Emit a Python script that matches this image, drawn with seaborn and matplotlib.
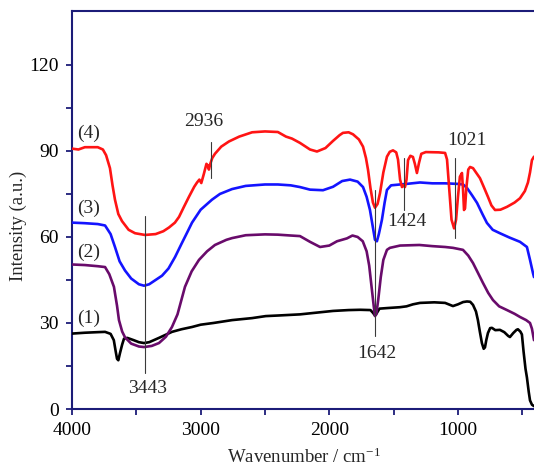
import matplotlib
matplotlib.use("Agg")
import matplotlib.pyplot as plt
import seaborn as sns
import pandas as pd

# ---------------- data ----------------
wn_4 = [4000, 3950, 3900, 3800, 3760, 3735, 3705, 3685, 3666, 3640, 3611, 3560, 3510, 3433,
        3350, 3290, 3246, 3200, 3168, 3130, 3091, 3050, 3028, 3010, 2995, 2975, 2955, 2945,
        2936, 2925, 2910, 2889, 2840, 2780, 2700, 2600, 2500, 2400, 2337, 2290, 2228, 2150,
        2096, 2030, 1971, 1920, 1894, 1850, 1816, 1770, 1738, 1715, 1699, 1680, 1661, 1645,
        1625, 1606, 1580, 1552, 1530, 1505, 1480, 1466, 1450, 1435, 1424, 1412, 1400, 1388,
        1370, 1350, 1335, 1319, 1303, 1285, 1250, 1150, 1100, 1085, 1070, 1050, 1030, 1015,
        1000, 985, 969, 960, 953, 945, 935, 920, 906, 883, 860, 829, 800, 767, 740, 712, 670,
        619, 560, 518, 480, 456, 440, 425, 409]
int_4 = [90.8, 90.5, 91.3, 91.3, 90.5, 88.5, 84.0, 78.0, 73.0, 68.0, 65.5, 62.5, 61.3, 60.7,
         61.0, 62.0, 63.3, 65.0, 67.0, 70.5, 74.0, 77.5, 79.0, 80.0, 78.8, 82.0, 85.5, 85.0,
         83.5, 85.5, 87.5, 89.0, 91.5, 93.3, 95.0, 96.5, 96.8, 96.6, 95.0, 94.3, 92.8, 90.5,
         89.8, 91.0, 93.5, 95.5, 96.3, 96.5, 95.8, 94.0, 91.5, 87.5, 83.4, 77.0, 72.0, 70.2,
         71.5, 75.3, 82.5, 88.0, 89.7, 90.2, 89.5, 87.0, 80.0, 77.4, 78.0, 77.4, 80.0, 86.8,
         88.3, 87.9, 85.5, 82.3, 85.8, 89.0, 89.6, 89.5, 89.3, 87.0, 78.0, 66.0, 63.0, 66.0,
         74.0, 81.0, 82.3, 76.0, 69.4, 70.0, 77.0, 83.5, 84.4, 84.0, 82.5, 80.5, 77.5, 74.0,
         71.0, 69.4, 69.5, 70.5, 72.0, 73.5, 76.0, 79.0, 82.5, 86.8, 88.0]

wn_3 = [4000, 3900, 3800, 3743, 3700, 3666, 3630, 3588, 3540, 3480, 3440, 3400, 3350, 3300,
        3250, 3199, 3150, 3100, 3067, 3000, 2912, 2850, 2756, 2650, 2500, 2400, 2300, 2228,
        2150, 2049, 1971, 1900, 1839, 1780, 1738, 1710, 1684, 1660, 1645, 1630, 1615, 1591,
        1570, 1552, 1520, 1451, 1400, 1295, 1200, 1100, 1000, 960, 930, 890, 852, 810, 775,
        730, 674, 600, 518, 464, 440, 417, 409]
int_3 = [65.0, 64.8, 64.5, 64.0, 61.0, 56.5, 51.5, 48.3, 45.5, 43.5, 43.0, 43.5, 45.0, 46.5,
         49.0, 53.0, 57.5, 62.0, 65.0, 69.5, 73.0, 75.0, 76.7, 77.8, 78.3, 78.3, 78.0, 77.4,
         76.5, 76.3, 77.5, 79.5, 80.0, 79.3, 77.4, 74.0, 69.4, 63.0, 59.0, 58.5, 61.0, 66.0,
         72.0, 76.4, 78.0, 78.3, 78.5, 79.0, 78.7, 78.7, 78.5, 78.3, 77.1, 74.5, 71.9, 68.0,
         64.9, 62.5, 61.3, 59.8, 58.3, 56.5, 52.0, 47.4, 46.0]

wn_2 = [4000, 3900, 3800, 3743, 3710, 3674, 3650, 3635, 3610, 3588, 3540, 3480, 3440, 3380,
        3324, 3270, 3223, 3180, 3122, 3070, 3013, 2950, 2889, 2800, 2756, 2650, 2500, 2400,
        2300, 2228, 2150, 2072, 2000, 1940, 1863, 1820, 1780, 1740, 1710, 1690, 1670, 1655,
        1645, 1635, 1620, 1600, 1580, 1552, 1529, 1450, 1300, 1200, 1100, 1039, 961, 920,
        883, 845, 806, 765, 728, 680, 619, 560, 518, 470, 440, 425, 409]
int_2 = [50.4, 50.2, 49.8, 49.5, 47.0, 42.6, 36.0, 31.0, 27.0, 25.0, 22.8, 21.8, 21.6, 22.0,
         23.0, 25.2, 28.6, 33.0, 42.6, 48.0, 52.0, 55.0, 57.2, 59.0, 59.6, 60.6, 60.9, 60.8,
         60.5, 60.3, 58.3, 56.5, 57.0, 58.5, 59.5, 60.5, 60.0, 58.5, 55.0, 50.0, 42.0, 36.0,
         32.4, 33.0, 38.0, 46.0, 52.0, 55.5, 56.2, 57.0, 57.2, 56.8, 56.5, 56.2, 55.5, 53.5,
         50.9, 47.5, 44.0, 40.5, 38.0, 35.8, 34.5, 33.2, 32.1, 31.0, 30.0, 28.0, 24.0]

wn_1 = [4000, 3900, 3800, 3743, 3700, 3675, 3660, 3650, 3640, 3627, 3610, 3596, 3570, 3520,
        3480, 3440, 3400, 3324, 3223, 3150, 3067, 3000, 2900, 2756, 2600, 2494, 2400, 2228,
        2100, 1971, 1850, 1760, 1680, 1660, 1645, 1630, 1610, 1550, 1451, 1400, 1350, 1295,
        1184, 1100, 1039, 1000, 960, 930, 905, 883, 860, 845, 830, 814, 800, 790, 780, 767,
        750, 736, 710, 674, 640, 610, 596, 570, 545, 534, 515, 503, 490, 475, 464, 450, 440,
        425, 409]
int_1 = [26.3, 26.6, 26.8, 26.9, 26.2, 24.0, 20.0, 17.5, 17.0, 19.5, 22.5, 24.5, 24.8, 24.0,
         23.3, 23.0, 23.3, 24.8, 26.9, 27.8, 28.6, 29.4, 30.0, 31.0, 31.7, 32.4, 32.6, 33.0,
         33.6, 34.2, 34.5, 34.6, 34.5, 33.5, 32.6, 33.5, 35.0, 35.2, 35.5, 35.8, 36.5, 37.0,
         37.2, 37.0, 35.9, 36.5, 37.3, 37.5, 37.4, 36.3, 34.0, 31.0, 27.0, 23.0, 21.0, 21.5,
         24.0, 26.5, 28.2, 28.3, 27.5, 27.6, 26.8, 25.5, 25.1, 26.5, 27.6, 27.8, 27.0, 26.0,
         20.0, 14.0, 11.0, 6.0, 3.0, 1.5, 1.0]

curve_names = ["(1)", "(2)", "(3)", "(4)"]
curve_colors = ["#000000", "#690b6b", "#1414ff", "#ff1414"]
curve_label_y = [31.7, 54.8, 70.1, 96.3]

peak_labels = ["3443", "2936", "1642", "1424", "1021"]
peak_line_x = [3430, 2922, 1645, 1420, 1023]
peak_line_y0 = [12.6, 80.6, 25.5, 69.4, 59.6]
peak_line_y1 = [67.3, 93.1, 76.4, 87.6, 87.6]
peak_text_x = [3412, 2978, 1632, 1400, 932]
peak_text_y = [7.0, 100.3, 19.2, 65.4, 93.5]

x_ticks = [4000, 3000, 2000, 1000]
x_minor = [3500, 2500, 1500, 500]
y_ticks = [0, 30, 60, 90, 120]
y_minor = [15, 45, 75, 105]

# ---------------- table ----------------
frames = []
for name, wn, it in zip(curve_names, [wn_1, wn_2, wn_3, wn_4], [int_1, int_2, int_3, int_4]):
    frames.append(pd.DataFrame({"wavenumber": wn, "intensity": it, "sample": name}))
df = pd.concat(frames, ignore_index=True)

# ---------------- style ----------------
sns.set_theme(style="ticks")
plt.rcParams["font.family"] = ["Liberation Serif", "DejaVu Serif"]
plt.rcParams["mathtext.fontset"] = "custom"
plt.rcParams["mathtext.rm"] = "Liberation Serif"
plt.rcParams["mathtext.it"] = "Liberation Serif:italic"

navy = "#1c1c78"

fig = plt.figure(figsize=(5.34, 4.75), dpi=100)
ax = fig.add_axes([72 / 534, 66 / 475, 462 / 534, 398 / 475])

sns.lineplot(data=df, x="wavenumber", y="intensity", hue="sample",
             palette=dict(zip(curve_names, curve_colors)), estimator=None,
             legend=False, linewidth=1.9, ax=ax, zorder=3)

ax.set_xlim(4000, 409)
ax.set_ylim(0, 138.8)
ax.set_xticks(x_ticks)
ax.set_xticks(x_minor, minor=True)
ax.set_yticks(y_ticks)
ax.set_yticks(y_minor, minor=True)
ax.tick_params(axis="both", which="both", direction="out", color=navy,
               width=1.3, labelsize=14, labelcolor="black", pad=5)
ax.tick_params(axis="both", which="major", length=4.5)
ax.tick_params(axis="both", which="minor", length=4)

for side in ["left", "top", "bottom"]:
    ax.spines[side].set_color(navy)
    ax.spines[side].set_linewidth(1.5)
ax.spines["right"].set_visible(False)

ax.set_xlabel("Wavenumber / cm$^{-1}$", fontsize=13.5)
ax.set_ylabel("Intensity (a.u.)", fontsize=13.5)
ax.xaxis.set_label_coords(0.502, -0.098)
ax.yaxis.set_label_coords(-0.097, 0.46)

for name, yy in zip(curve_names, curve_label_y):
    ax.text(3961, yy, name, fontsize=14, ha="left", va="center")

for lab, lx, y0, y1, tx, ty in zip(peak_labels, peak_line_x, peak_line_y0, peak_line_y1,
                                   peak_text_x, peak_text_y):
    ax.plot([lx, lx], [y0, y1], color="#3a3a3a", linewidth=0.8, zorder=4)
    ax.text(tx, ty, lab, fontsize=14, ha="center", va="center")

fig.savefig("out.png", dpi=100)
